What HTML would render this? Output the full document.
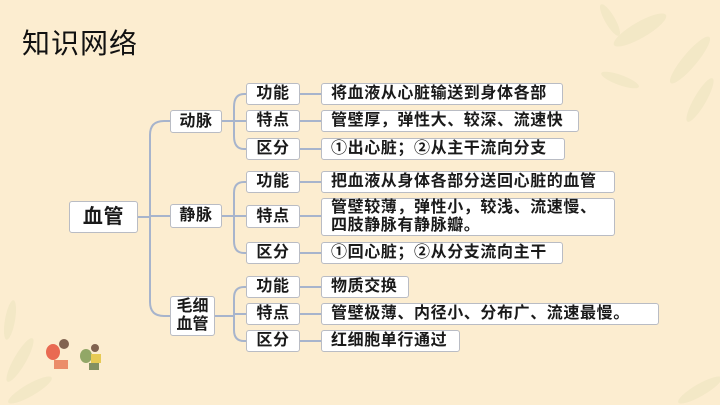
<!DOCTYPE html>
<html><head><meta charset="utf-8"><style>
html,body{margin:0;padding:0}
body{width:720px;height:405px;position:relative;overflow:hidden;background:#fcedd0;font-family:"Liberation Sans","Noto Sans CJK SC",sans-serif}
.b{position:absolute;background:#fff;border:1px solid #b9bcc4;border-radius:3px;box-sizing:border-box;font-size:16px;font-weight:700;color:#1a1a1a;display:flex;align-items:center;padding-left:9px;line-height:18px;white-space:nowrap;letter-spacing:0.6px}
.c{justify-content:center;padding-left:0}
.t{position:absolute;left:22px;top:22px;font-size:28px;color:#111;letter-spacing:1px}
</style></head><body>
<svg width="720" height="405" style="position:absolute;left:0;top:0">
<g fill="#d8d8a8" opacity="0.25">
<ellipse cx="640" cy="30" rx="30" ry="8" transform="rotate(-30 640 30)"/>
<ellipse cx="690" cy="60" rx="30" ry="7" transform="rotate(-50 690 60)"/>
<ellipse cx="620" cy="80" rx="20" ry="5" transform="rotate(20 620 80)"/>
<ellipse cx="700" cy="100" rx="25" ry="6" transform="rotate(-60 700 100)"/>
<ellipse cx="610" cy="20" rx="18" ry="5" transform="rotate(60 610 20)"/>
<ellipse cx="20" cy="360" rx="25" ry="6" transform="rotate(-60 20 360)"/>
<ellipse cx="10" cy="320" rx="20" ry="5" transform="rotate(-80 10 320)"/>
<ellipse cx="30" cy="390" rx="25" ry="6" transform="rotate(-30 30 390)"/>
<ellipse cx="700" cy="390" rx="25" ry="6" transform="rotate(-30 700 390)"/>
</g>
<g opacity="0.85">
<ellipse cx="53" cy="352" rx="7" ry="8" fill="#e5533c"/>
<ellipse cx="64" cy="344" rx="5" ry="5" fill="#6b4a3a"/>
<rect x="54" y="360" width="14" height="9" fill="#e87c58"/>
<ellipse cx="86" cy="356" rx="6" ry="7" fill="#7f9a55"/>
<ellipse cx="95" cy="348" rx="4" ry="4" fill="#6b4a3a"/>
<rect x="91" y="354" width="10" height="9" fill="#e3c43f"/>
<rect x="89" y="363" width="10" height="7" fill="#6f7f4f"/>
</g>
<g fill="none" stroke="#a7b4cc" stroke-width="2">
<path d="M138 217 H150"/>
<path d="M150 217 V135 Q150 121 164 121 H170"/>
<path d="M150 217 V302 Q150 316 164 316 H170"/>
<path d="M150 216 H170"/>
<path d="M222 121 H234"/><path d="M234 121 V107 Q234 94 244 94 H246"/><path d="M234 121 V136 Q234 149 244 149 H246"/><path d="M234 121 H246"/>
<path d="M222 216 H234"/><path d="M234 216 V193 Q234 182 244 182 H246"/><path d="M234 216 V241 Q234 253 244 253 H246"/><path d="M234 216 H246"/>
<path d="M215 316 H234"/><path d="M234 316 V298 Q234 287 244 287 H246"/><path d="M234 316 V330 Q234 341 244 341 H246"/><path d="M234 314 H246"/>
<path d="M300 94 H321 M300 121 H321 M300 149 H321 M300 182 H321 M300 216 H321 M300 253 H321 M300 287 H321 M300 314 H321 M300 341 H321"/>
</g>
</svg>
<div class="t">知识网络</div>
<div class="b c" style="left:69px;top:201px;width:69px;height:32px;font-size:20px;font-weight:700">血管</div>
<div class="b c" style="left:170px;top:110px;width:52px;height:23px">动脉</div>
<div class="b c" style="left:170px;top:204px;width:52px;height:24px">静脉</div>
<div class="b c" style="left:170px;top:296px;width:45px;height:40px;white-space:normal;text-align:center;letter-spacing:0">毛细<br>血管</div>

<div class="b c" style="left:246px;top:83px;width:54px;height:22px">功能</div>
<div class="b c" style="left:246px;top:110px;width:54px;height:22px">特点</div>
<div class="b c" style="left:246px;top:138px;width:54px;height:22px">区分</div>
<div class="b c" style="left:246px;top:171px;width:54px;height:22px">功能</div>
<div class="b c" style="left:246px;top:205px;width:54px;height:23px">特点</div>
<div class="b c" style="left:246px;top:242px;width:54px;height:22px">区分</div>
<div class="b c" style="left:246px;top:276px;width:54px;height:22px">功能</div>
<div class="b c" style="left:246px;top:303px;width:54px;height:22px">特点</div>
<div class="b c" style="left:246px;top:330px;width:54px;height:22px">区分</div>

<div class="b" style="left:321px;top:83px;width:242px;height:22px">将血液从心脏输送到身体各部</div>
<div class="b" style="left:321px;top:110px;width:258px;height:22px">管壁厚，弹性大、较深、流速快</div>
<div class="b" style="left:321px;top:138px;width:244px;height:22px">①出心脏；②从主干流向分支</div>
<div class="b" style="left:321px;top:171px;width:294px;height:22px">把血液从身体各部分送回心脏的血管</div>
<div class="b" style="left:321px;top:198px;width:294px;height:38px">管壁较薄，弹性小，较浅、流速慢、<br>四肢静脉有静脉瓣。</div>
<div class="b" style="left:321px;top:242px;width:242px;height:22px">①回心脏；②从分支流向主干</div>
<div class="b" style="left:321px;top:276px;width:88px;height:22px">物质交换</div>
<div class="b" style="left:321px;top:303px;width:338px;height:22px">管壁极薄、内径小、分布广、流速最慢。</div>
<div class="b" style="left:321px;top:330px;width:139px;height:22px">红细胞单行通过</div>
</body></html>
